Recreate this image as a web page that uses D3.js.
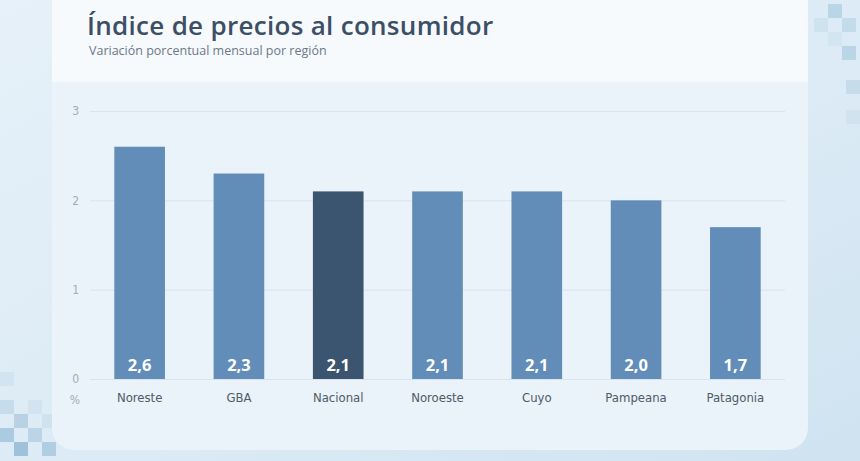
<!DOCTYPE html>
<meta charset="utf-8">
<head>
  <title>Índice de precios al consumidor</title>
  <script src="https://d3js.org/d3.v7.min.js"></script>
  <style>
    body { margin: 0; background: #dceaf5; }
    .tick text { font-family: "DejaVu Sans Condensed", "DejaVu Sans", sans-serif; font-stretch: condensed; }
  </style>
</head>
<body>
<div id="chart"></div>
<script>

var regiones = ["Noreste", "GBA", "Nacional", "Noroeste", "Cuyo", "Pampeana", "Patagonia"];
var valores = [2.6, 2.3, 2.1, 2.1, 2.1, 2.0, 1.7];
var yTicks = [0, 1, 2, 3];

var W = 860, H = 461;

var svg = d3.select("#chart").append("svg")
    .attr("width", W)
    .attr("height", H);

var defs = svg.append("defs");
var bg = defs.append("linearGradient").attr("id", "bg")
    .attr("x1", 0).attr("y1", 0).attr("x2", 1).attr("y2", 1);
bg.append("stop").attr("offset", "0%").attr("stop-color", "#e6f1f9");
bg.append("stop").attr("offset", "60%").attr("stop-color", "#dbeaf5");
bg.append("stop").attr("offset", "100%").attr("stop-color", "#cfe3f0");

svg.append("rect").attr("width", W).attr("height", H).attr("fill", "url(#bg)");

// decorative pixel squares
var squares = [
  [0, 400, "#c7dcea"], [14, 414, "#b8d2e4"], [28, 400, "#d3e4f0"], [0, 428, "#aacbe0"],
  [28, 428, "#bcd5e6"], [42, 414, "#cfe2ee"], [14, 442, "#9fc2da"], [42, 442, "#b0cde1"],
  [0, 372, "#d2e4ef"], [828, 4, "#b9d6e6"], [842, 18, "#c4dcea"], [814, 18, "#cfe3ef"],
  [842, 46, "#bad5e5"], [828, 32, "#d2e5f0"], [846, 80, "#c6dcea"], [846, 110, "#d0e3ef"]
];
svg.selectAll("rect.sq").data(squares).enter().append("rect")
    .attr("class", "sq")
    .attr("x", function(d) { return d[0]; })
    .attr("y", function(d) { return d[1]; })
    .attr("width", 14).attr("height", 14)
    .attr("fill", function(d) { return d[2]; });

// card
svg.append("clipPath").attr("id", "card")
  .append("rect").attr("x", 52).attr("y", -30).attr("width", 756).attr("height", 480).attr("rx", 22);

var card = svg.append("g").attr("clip-path", "url(#card)");
card.append("rect").attr("x", 52).attr("y", -30).attr("width", 756).attr("height", 480).attr("fill", "#eaf2fa");
card.append("rect").attr("x", 52).attr("y", -30).attr("width", 756).attr("height", 112).attr("fill", "#f7fafd");

svg.append("text")
    .attr("x", 87).attr("y", 35)
    .attr("fill", "#3c4f66")
    .style("font", "600 26px 'Open Sans', sans-serif")
    .style("letter-spacing", "0.3px")
    .text("Índice de precios al consumidor");

svg.append("text")
    .attr("x", 89).attr("y", 55)
    .attr("fill", "#6c7887")
    .style("font", "12.5px 'Open Sans', sans-serif")
    .text("Variación porcentual mensual por región");

var x = d3.scaleBand()
    .domain(regiones)
    .range([90, 785])
    .paddingInner(0.49)
    .paddingOuter(0.245);

var y = d3.scaleLinear()
    .domain([0, 3])
    .range([379, 111]);

// grid
var yAxis = svg.append("g")
    .attr("transform", "translate(90,0)")
    .call(d3.axisLeft(y).tickValues(yTicks).tickFormat(d3.format("d")).tickSize(-695).tickPadding(11));
yAxis.select(".domain").remove();
yAxis.selectAll(".tick line").attr("stroke", "#d9e3ec");
yAxis.selectAll(".tick text").attr("fill", "#a3acb6").style("font-size", "12px");

svg.append("text")
    .attr("x", 75).attr("y", 404)
    .attr("text-anchor", "middle")
    .attr("fill", "#a3acb6")
    .style("font", "12px 'DejaVu Sans Condensed', 'DejaVu Sans', sans-serif")
    .style("font-stretch", "condensed")
    .text("%");

svg.selectAll("rect.bar")
    .data(valores)
    .enter().append("rect")
    .attr("class", "bar")
    .attr("x", function(d, i) { return x(regiones[i]); })
    .attr("y", function(d) { return y(d); })
    .attr("width", x.bandwidth())
    .attr("height", function(d) { return y(0) - y(d); })
    .attr("fill", function(d, i) { return regiones[i] === "Nacional" ? "#3b546f" : "#628db9"; });

svg.selectAll("text.val")
    .data(valores)
    .enter().append("text")
    .attr("class", "val")
    .attr("x", function(d, i) { return x(regiones[i]) + x.bandwidth() / 2; })
    .attr("y", y(0) - 8)
    .attr("text-anchor", "middle")
    .attr("fill", "#ffffff")
    .style("font", "700 16.5px 'Open Sans', sans-serif")
    .text(function(d) { return d3.format(".1f")(d).replace(".", ","); });

var xAxis = svg.append("g")
    .attr("transform", "translate(0," + y(0) + ")")
    .call(d3.axisBottom(x).tickSize(0).tickPadding(14));
xAxis.select(".domain").remove();
xAxis.selectAll(".tick text").attr("fill", "#4f5b68").style("font-size", "13px");

</script>
</body>
